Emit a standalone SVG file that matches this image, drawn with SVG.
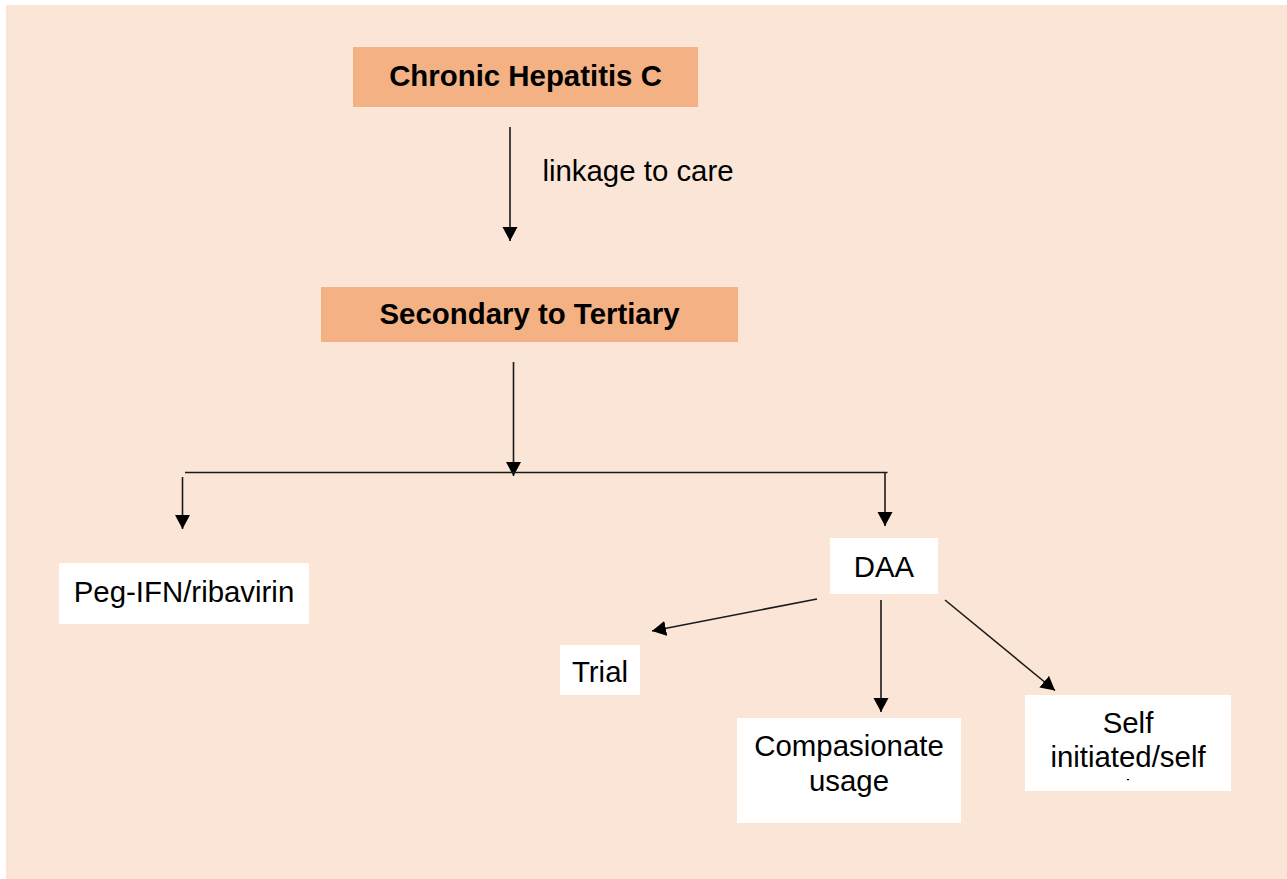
<svg xmlns="http://www.w3.org/2000/svg" width="1287" height="879" viewBox="0 0 1287 879">
<style>
.hdr{fill:#F4B183}
.box{fill:#FFFFFF}
.b{font-family:"Liberation Sans",Arial,sans-serif;font-weight:bold;font-size:29.4px;fill:#000;text-anchor:middle}
.t{font-family:"Liberation Sans",Arial,sans-serif;font-size:29.4px;fill:#000;text-anchor:middle}
.c{stroke:#1a1a1a;stroke-width:1.6;fill:none}
</style>
<defs>
<marker id="ah" markerUnits="userSpaceOnUse" markerWidth="16" markerHeight="16" refX="14" refY="7.5" orient="auto">
<path d="M0,0 L14,7.5 L0,15 Z" fill="#000"/>
</marker>
</defs>
<rect x="6" y="5" width="1281" height="874" fill="#FAE5D7"/>
<g id="n-chronic">
<rect class="hdr" x="353" y="47" width="345" height="60"/>
<text class="b" x="525.5" y="86">Chronic Hepatitis C</text>
</g>
<g id="n-secondary">
<rect class="hdr" x="321" y="287" width="417" height="55"/>
<text class="b" x="529.5" y="324">Secondary to Tertiary</text>
</g>
<g id="n-peg">
<rect class="box" x="59" y="563" width="250" height="61"/>
<text class="t" x="184" y="602">Peg-IFN/ribavirin</text>
</g>
<g id="n-daa">
<rect class="box" x="830" y="538" width="108" height="56"/>
<text class="t" x="884" y="577">DAA</text>
</g>
<g id="n-trial">
<rect class="box" x="560" y="645" width="80" height="50"/>
<text class="t" x="600" y="682">Trial</text>
</g>
<g id="n-comp">
<rect class="box" x="737" y="718" width="224" height="105"/>
<text class="t" x="849" y="756">Compasionate</text>
<text class="t" x="849" y="791">usage</text>
</g>
<g id="n-self">
<rect class="box" x="1025" y="695" width="206" height="96"/>
<text class="t" x="1128" y="733">Self</text>
<text class="t" x="1128" y="767">initiated/self</text>
<rect x="1127" y="779" width="2" height="1.2" fill="#000"/>
</g>
<g id="connectors">
<line class="c" x1="510" y1="127" x2="510" y2="241" marker-end="url(#ah)"/>
<text class="t" x="638" y="181">linkage to care</text>
<line class="c" x1="513.5" y1="362" x2="513.5" y2="476" marker-end="url(#ah)"/>
<line class="c" x1="185" y1="472.5" x2="887.5" y2="472.5" stroke="#404040"/>
<line class="c" x1="182.5" y1="477" x2="182.5" y2="529" marker-end="url(#ah)"/>
<line class="c" x1="885" y1="472.5" x2="885" y2="526" marker-end="url(#ah)"/>
<line class="c" x1="817" y1="599" x2="652" y2="631" marker-end="url(#ah)"/>
<line class="c" x1="881" y1="600" x2="881" y2="712" marker-end="url(#ah)"/>
<line class="c" x1="945" y1="600" x2="1055" y2="690.5" marker-end="url(#ah)"/>
</g>
</svg>
